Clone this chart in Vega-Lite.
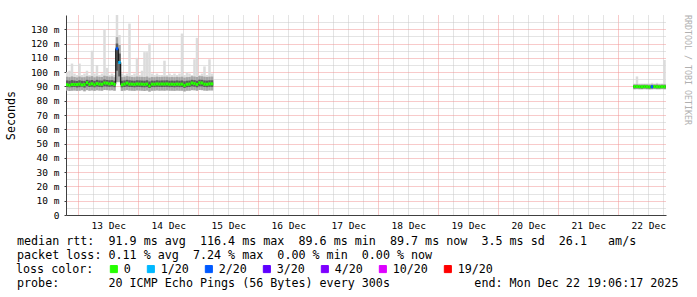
{
"$schema": "https://vega.github.io/schema/vega-lite/v6.json",
"width": 600, "height": 200,
"autosize": {"type": "none"},
"padding": {"left": 66, "top": 15, "right": 31, "bottom": 82},
"background": "white",
"config": {"view": {"stroke": null}, "font": "DejaVu Sans Mono"},
"title": {"text": "RRDTOOL / TOBI OETIKER", "orient": "right", "anchor": "start", "frame": "group", "offset": 6, "font": "DejaVu Sans Mono", "fontSize": 8.3, "fontWeight": "normal", "color": "#b0b0b0"},
"datasets": {"ping": [
{"t":"2025-12-12T19:00:00Z","seg":"A","lo":87.2,"q1":89.6,"q3":94.2,"up":96.8,"hi":100,"med":91.2,"loss":"0"},
{"t":"2025-12-12T20:00:00Z","seg":"A","lo":86.8,"q1":89.4,"q3":94.0,"up":96.5,"hi":101,"med":90.8,"loss":"0"},
{"t":"2025-12-12T21:00:00Z","seg":"A","lo":87.0,"q1":89.5,"q3":94.4,"up":97.0,"hi":106,"med":91.4,"loss":"0"},
{"t":"2025-12-12T22:00:00Z","seg":"A","lo":87.1,"q1":89.6,"q3":94.1,"up":96.6,"hi":99,"med":91.3,"loss":"0"},
{"t":"2025-12-12T23:00:00Z","seg":"A","lo":86.9,"q1":89.3,"q3":93.8,"up":96.3,"hi":98,"med":91.4,"loss":"0"},
{"t":"2025-12-13T00:00:00Z","seg":"A","lo":87.0,"q1":89.5,"q3":94.3,"up":96.9,"hi":106,"med":91.6,"loss":"0"},
{"t":"2025-12-13T01:00:00Z","seg":"A","lo":87.3,"q1":89.7,"q3":94.0,"up":96.4,"hi":98,"med":91.1,"loss":"0"},
{"t":"2025-12-13T02:00:00Z","seg":"A","lo":86.6,"q1":89.2,"q3":93.9,"up":96.5,"hi":99,"med":91.3,"loss":"0"},
{"t":"2025-12-13T03:00:00Z","seg":"A","lo":87.4,"q1":90.1,"q3":94.6,"up":97.1,"hi":101,"med":92.6,"loss":"0"},
{"t":"2025-12-13T04:00:00Z","seg":"A","lo":87.0,"q1":89.6,"q3":94.2,"up":96.8,"hi":98,"med":91.5,"loss":"0"},
{"t":"2025-12-13T05:00:00Z","seg":"A","lo":87.2,"q1":89.8,"q3":94.5,"up":97.2,"hi":115,"med":91.9,"loss":"0"},
{"t":"2025-12-13T06:00:00Z","seg":"A","lo":86.9,"q1":89.4,"q3":93.9,"up":96.4,"hi":99,"med":91.2,"loss":"0"},
{"t":"2025-12-13T07:00:00Z","seg":"A","lo":87.3,"q1":89.9,"q3":94.6,"up":97.0,"hi":105,"med":92.0,"loss":"0"},
{"t":"2025-12-13T08:00:00Z","seg":"A","lo":87.1,"q1":89.6,"q3":94.2,"up":96.7,"hi":98,"med":91.6,"loss":"0"},
{"t":"2025-12-13T09:00:00Z","seg":"A","lo":87.0,"q1":89.5,"q3":94.1,"up":96.6,"hi":99,"med":91.5,"loss":"0"},
{"t":"2025-12-13T10:00:00Z","seg":"A","lo":87.5,"q1":90.0,"q3":94.8,"up":97.5,"hi":130,"med":92.4,"loss":"0"},
{"t":"2025-12-13T11:00:00Z","seg":"A","lo":87.4,"q1":89.9,"q3":94.5,"up":97.1,"hi":103,"med":92.3,"loss":"0"},
{"t":"2025-12-13T12:00:00Z","seg":"A","lo":87.2,"q1":89.7,"q3":94.3,"up":96.8,"hi":98,"med":91.8,"loss":"0"},
{"t":"2025-12-13T13:00:00Z","seg":"A","lo":87.3,"q1":89.9,"q3":94.4,"up":97.0,"hi":99,"med":92.1,"loss":"0"},
{"t":"2025-12-13T14:00:00Z","seg":"A","lo":87.0,"q1":89.5,"q3":94.0,"up":96.5,"hi":98,"med":91.5,"loss":"0"},
{"t":"2025-12-13T15:00:00Z","seg":"A","lo":93.0,"q1":101.0,"q3":120.0,"up":124.5,"hi":140,"med":116.4,"loss":"2/20"},
{"t":"2025-12-13T16:00:00Z","seg":"A","lo":93.0,"q1":97.0,"q3":113.0,"up":119.0,"hi":126,"med":106.8,"loss":"1/20"},
{"t":"2025-12-13T17:00:00Z","seg":"A","lo":86.9,"q1":89.4,"q3":94.0,"up":96.5,"hi":99,"med":91.2,"loss":"0"},
{"t":"2025-12-13T18:00:00Z","seg":"A","lo":87.1,"q1":89.6,"q3":94.2,"up":96.8,"hi":98,"med":91.6,"loss":"0"},
{"t":"2025-12-13T19:00:00Z","seg":"A","lo":87.4,"q1":89.9,"q3":94.6,"up":97.2,"hi":99,"med":92.3,"loss":"0"},
{"t":"2025-12-13T20:00:00Z","seg":"A","lo":87.1,"q1":89.6,"q3":94.3,"up":96.9,"hi":134,"med":91.6,"loss":"0"},
{"t":"2025-12-13T21:00:00Z","seg":"A","lo":87.0,"q1":89.6,"q3":94.1,"up":96.6,"hi":98,"med":91.6,"loss":"0"},
{"t":"2025-12-13T22:00:00Z","seg":"A","lo":86.9,"q1":89.4,"q3":94.0,"up":96.5,"hi":99,"med":91.4,"loss":"0"},
{"t":"2025-12-13T23:00:00Z","seg":"A","lo":87.2,"q1":89.7,"q3":94.3,"up":96.9,"hi":110,"med":91.8,"loss":"0"},
{"t":"2025-12-14T00:00:00Z","seg":"A","lo":87.1,"q1":89.6,"q3":94.2,"up":96.7,"hi":98,"med":91.6,"loss":"0"},
{"t":"2025-12-14T01:00:00Z","seg":"A","lo":87.0,"q1":89.5,"q3":94.1,"up":96.7,"hi":101,"med":91.6,"loss":"0"},
{"t":"2025-12-14T02:00:00Z","seg":"A","lo":86.8,"q1":89.4,"q3":94.0,"up":96.6,"hi":114,"med":91.4,"loss":"0"},
{"t":"2025-12-14T03:00:00Z","seg":"A","lo":87.1,"q1":89.7,"q3":94.3,"up":96.9,"hi":114,"med":91.7,"loss":"0"},
{"t":"2025-12-14T04:00:00Z","seg":"A","lo":86.4,"q1":88.9,"q3":93.5,"up":96.2,"hi":120,"med":90.4,"loss":"0"},
{"t":"2025-12-14T05:00:00Z","seg":"A","lo":87.0,"q1":89.6,"q3":94.1,"up":96.6,"hi":99,"med":91.6,"loss":"0"},
{"t":"2025-12-14T06:00:00Z","seg":"A","lo":87.0,"q1":89.5,"q3":94.0,"up":96.5,"hi":98,"med":91.5,"loss":"0"},
{"t":"2025-12-14T07:00:00Z","seg":"A","lo":87.2,"q1":89.7,"q3":94.3,"up":96.8,"hi":99,"med":91.8,"loss":"0"},
{"t":"2025-12-14T08:00:00Z","seg":"A","lo":87.0,"q1":89.6,"q3":94.1,"up":96.6,"hi":98,"med":91.6,"loss":"0"},
{"t":"2025-12-14T09:00:00Z","seg":"A","lo":87.1,"q1":89.6,"q3":94.2,"up":96.7,"hi":98,"med":91.7,"loss":"0"},
{"t":"2025-12-14T10:00:00Z","seg":"A","lo":87.0,"q1":89.6,"q3":94.2,"up":96.8,"hi":108,"med":91.6,"loss":"0"},
{"t":"2025-12-14T11:00:00Z","seg":"A","lo":87.2,"q1":89.7,"q3":94.3,"up":96.8,"hi":98,"med":91.8,"loss":"0"},
{"t":"2025-12-14T12:00:00Z","seg":"A","lo":87.0,"q1":89.5,"q3":94.0,"up":96.5,"hi":99,"med":91.5,"loss":"0"},
{"t":"2025-12-14T13:00:00Z","seg":"A","lo":87.0,"q1":89.6,"q3":94.1,"up":96.6,"hi":98,"med":91.6,"loss":"0"},
{"t":"2025-12-14T14:00:00Z","seg":"A","lo":86.9,"q1":89.4,"q3":94.0,"up":96.5,"hi":99,"med":91.4,"loss":"0"},
{"t":"2025-12-14T15:00:00Z","seg":"A","lo":87.1,"q1":89.7,"q3":94.2,"up":96.7,"hi":98,"med":91.7,"loss":"0"},
{"t":"2025-12-14T16:00:00Z","seg":"A","lo":87.0,"q1":89.5,"q3":94.0,"up":96.5,"hi":99,"med":91.5,"loss":"0"},
{"t":"2025-12-14T17:00:00Z","seg":"A","lo":87.0,"q1":89.6,"q3":94.2,"up":96.8,"hi":127,"med":91.6,"loss":"0"},
{"t":"2025-12-14T18:00:00Z","seg":"A","lo":86.5,"q1":89.0,"q3":93.6,"up":96.2,"hi":98,"med":90.7,"loss":"0"},
{"t":"2025-12-14T19:00:00Z","seg":"A","lo":87.0,"q1":89.5,"q3":94.0,"up":96.5,"hi":100,"med":91.5,"loss":"0"},
{"t":"2025-12-14T20:00:00Z","seg":"A","lo":87.0,"q1":89.6,"q3":94.1,"up":96.6,"hi":99,"med":91.6,"loss":"0"},
{"t":"2025-12-14T21:00:00Z","seg":"A","lo":87.4,"q1":90.0,"q3":94.6,"up":97.1,"hi":98,"med":92.4,"loss":"0"},
{"t":"2025-12-14T22:00:00Z","seg":"A","lo":87.3,"q1":89.8,"q3":94.4,"up":96.9,"hi":109,"med":92.0,"loss":"0"},
{"t":"2025-12-14T23:00:00Z","seg":"A","lo":87.0,"q1":89.4,"q3":94.0,"up":96.6,"hi":124,"med":91.4,"loss":"0"},
{"t":"2025-12-15T00:00:00Z","seg":"A","lo":87.5,"q1":90.0,"q3":94.7,"up":97.2,"hi":98,"med":92.5,"loss":"0"},
{"t":"2025-12-15T01:00:00Z","seg":"A","lo":87.4,"q1":90.0,"q3":94.6,"up":97.1,"hi":99,"med":92.4,"loss":"0"},
{"t":"2025-12-15T02:00:00Z","seg":"A","lo":87.1,"q1":89.6,"q3":94.2,"up":96.8,"hi":104,"med":91.6,"loss":"0"},
{"t":"2025-12-15T03:00:00Z","seg":"A","lo":87.0,"q1":89.5,"q3":94.1,"up":96.6,"hi":98,"med":91.5,"loss":"0"},
{"t":"2025-12-15T04:00:00Z","seg":"A","lo":87.2,"q1":89.7,"q3":94.3,"up":96.8,"hi":109,"med":91.8,"loss":"0"},
{"t":"2025-12-15T05:00:00Z","seg":"A","lo":87.2,"q1":89.7,"q3":94.3,"up":96.9,"hi":99,"med":91.8,"loss":"0"},
{"t":"2025-12-22T06:00:00Z","seg":"B","lo":88.0,"q1":88.7,"q3":90.7,"up":91.5,"hi":92,"med":89.9,"loss":"0"},
{"t":"2025-12-22T07:00:00Z","seg":"B","lo":88.1,"q1":88.8,"q3":90.8,"up":91.6,"hi":97,"med":89.9,"loss":"0"},
{"t":"2025-12-22T08:00:00Z","seg":"B","lo":88.0,"q1":88.7,"q3":90.6,"up":91.4,"hi":92,"med":89.8,"loss":"0"},
{"t":"2025-12-22T09:00:00Z","seg":"B","lo":88.0,"q1":88.6,"q3":90.6,"up":91.4,"hi":92,"med":89.7,"loss":"0"},
{"t":"2025-12-22T10:00:00Z","seg":"B","lo":88.1,"q1":88.8,"q3":90.7,"up":91.5,"hi":92,"med":89.9,"loss":"0"},
{"t":"2025-12-22T11:00:00Z","seg":"B","lo":88.0,"q1":88.7,"q3":90.6,"up":91.4,"hi":92,"med":89.8,"loss":"0"},
{"t":"2025-12-22T12:00:00Z","seg":"B","lo":87.9,"q1":88.6,"q3":90.5,"up":91.3,"hi":92,"med":89.6,"loss":"0"},
{"t":"2025-12-22T13:00:00Z","seg":"B","lo":88.0,"q1":88.7,"q3":90.7,"up":91.5,"hi":92.5,"med":89.8,"loss":"2/20"},
{"t":"2025-12-22T14:00:00Z","seg":"B","lo":88.1,"q1":88.8,"q3":90.7,"up":91.5,"hi":92,"med":89.9,"loss":"0"},
{"t":"2025-12-22T15:00:00Z","seg":"B","lo":88.0,"q1":88.7,"q3":90.8,"up":91.6,"hi":92.5,"med":89.8,"loss":"0"},
{"t":"2025-12-22T16:00:00Z","seg":"B","lo":88.0,"q1":88.7,"q3":90.6,"up":91.4,"hi":92,"med":89.7,"loss":"0"},
{"t":"2025-12-22T17:00:00Z","seg":"B","lo":88.1,"q1":88.8,"q3":90.7,"up":91.5,"hi":92,"med":89.8,"loss":"0"},
{"t":"2025-12-22T18:00:00Z","seg":"B","lo":88.0,"q1":88.7,"q3":90.7,"up":91.6,"hi":108.5,"med":89.8,"loss":"0"},
{"t":"2025-12-22T19:00:00Z","seg":"B","lo":88.0,"q1":88.6,"q3":90.6,"up":91.4,"hi":92,"med":89.7,"loss":"0"}
]},
"data": {"name": "ping"},
"transform": [{"timeUnit": "utcyearmonthdatehours", "field": "t", "as": "h0"}],
"layer": [
{"mark": {"type": "rect", "color": "#dcdcdc", "clip": true},
 "encoding": {
  "x": {"field": "h0", "type": "temporal",
        "title": ["median rtt:\u00a0\u00a091.9 ms avg\u00a0\u00a0116.4 ms max\u00a0\u00a089.6 ms min\u00a0\u00a089.7 ms now\u00a0\u00a03.5 ms sd\u00a0\u00a026.1\u00a0\u00a0\u00a0am/s", "packet loss: 0.11 % avg\u00a0\u00a07.24 % max\u00a0\u00a00.00 % min\u00a0\u00a00.00 % now", "\u200b", "probe:\u00a0\u00a0\u00a0\u00a0\u00a0\u00a0\u00a020 ICMP Echo Pings (56 Bytes) every 300s\u00a0\u00a0\u00a0\u00a0\u00a0\u00a0\u00a0\u00a0\u00a0\u00a0\u00a0\u00a0end: Mon Dec 22 19:06:17 2025"],
        "scale": {"type": "utc", "domain": [1765566377000, 1766430377000]},
        "axis": {"orient": "bottom", "tickCount": 100,
                 "values": [1765584000000,1765605600000,1765627200000,1765648800000,1765670400000,1765692000000,1765713600000,1765735200000,1765756800000,1765778400000,1765800000000,1765821600000,1765843200000,1765864800000,1765886400000,1765908000000,1765929600000,1765951200000,1765972800000,1765994400000,1766016000000,1766037600000,1766059200000,1766080800000,1766102400000,1766124000000,1766145600000,1766167200000,1766188800000,1766210400000,1766232000000,1766253600000,1766275200000,1766296800000,1766318400000,1766340000000,1766361600000,1766383200000,1766404800000,1766426400000],
                 "grid": true, "gridDash": [1, 1],
                 "gridColor": {"condition": {"test": "utchours(datum.value) === 0", "value": "#f09595"}, "value": "#c8c8c8"},
                 "domain": true, "domainColor": "#404040", "ticks": false,
                 "labelExpr": "utchours(datum.value) === 12 ? utcFormat(datum.value, '%d %b') : ''",
                 "labelFont": "DejaVu Sans Mono", "labelFontSize": 9.5, "labelColor": "#000000", "labelPadding": 5,
                 "labelOverlap": false, "labelFlush": false,
                 "titleX": -49.5, "titleY": 20, "titleAlign": "left", "titleBaseline": "top",
                 "titleFont": "DejaVu Sans Mono", "titleFontSize": 11.7, "titleFontWeight": "normal", "titleColor": "#000000", "titleLineHeight": 14}},
  "x2": {"field": "h0_end"},
  "y": {"field": "lo", "type": "quantitative", "title": "Seconds", "scale": {"domain": [0, 140], "nice": false},
        "axis": {"orient": "left", "tickCount": 100, "values": [0,5,10,15,20,25,30,35,40,45,50,55,60,65,70,75,80,85,90,95,100,105,110,115,120,125,130,135],
                 "grid": true, "gridDash": [1, 1],
                 "gridColor": {"condition": {"test": "datum.value % 10 === 0", "value": "#f09595"}, "value": "#c8c8c8"},
                 "domain": true, "domainColor": "#404040", "ticks": true, "tickSize": 2,
                 "tickColor": {"condition": {"test": "datum.value % 10 === 0", "value": "#404040"}, "value": "transparent"},
                 "labelExpr": "datum.value % 10 !== 0 ? '' : (datum.value === 0 ? '0\u00a0\u00a0' : datum.value + '\u00a0m')",
                 "labelFont": "DejaVu Sans Mono", "labelFontSize": 9.5, "labelColor": "#000000", "labelPadding": 5,
                 "labelOverlap": false, "labelFlush": false, "labelBound": false,
                 "titleX": -56, "titleY": 100, "titleAlign": "center", "titleBaseline": "middle",
                 "titleFont": "DejaVu Sans Mono", "titleFontSize": 11.7, "titleFontWeight": "normal", "titleColor": "#000000"}},
  "y2": {"field": "hi"}
 }},
{"mark": {"type": "rect", "color": "#a6a6a6", "clip": true},
 "encoding": {
  "x": {"field": "h0", "type": "temporal"},
  "x2": {"field": "h0_end"},
  "y": {"field": "lo", "type": "quantitative", "title": "Seconds"},
  "y2": {"field": "up"}
 }},
{"mark": {"type": "rect", "color": "#5c5c5c", "clip": true},
 "encoding": {
  "x": {"field": "h0", "type": "temporal"},
  "x2": {"field": "h0_end"},
  "y": {"field": "q1", "type": "quantitative", "title": "Seconds"},
  "y2": {"field": "q3"}
 }},
{"mark": {"type": "line", "color": "#000000", "strokeWidth": 1, "interpolate": "step-after", "clip": true},
 "encoding": {
  "x": {"field": "h0", "type": "temporal"},
  "y": {"field": "med", "type": "quantitative", "title": "Seconds"},
  "detail": {"field": "seg", "type": "nominal"}
 }},
{"mark": {"type": "rule", "strokeWidth": 3, "strokeCap": "butt", "clip": true},
 "encoding": {
  "x": {"field": "h0", "type": "temporal"},
  "x2": {"field": "h0_end"},
  "y": {"field": "med", "type": "quantitative", "title": "Seconds"},
  "color": {"field": "loss", "type": "nominal",
            "scale": {"domain": ["0", "1/20", "2/20", "3/20", "4/20", "10/20", "19/20"],
                      "range": ["#26ff00", "#00b8ff", "#0059ff", "#5e00ff", "#7e00ff", "#dd00ff", "#ff0000"]},
            "legend": {"title": "loss color:", "orient": "none", "legendX": -50, "legendY": 248, "direction": "horizontal",
                       "titleOrient": "left", "titleFont": "DejaVu Sans Mono", "titleFontSize": 11.7, "titleFontWeight": "normal", "titleColor": "#000000", "titlePadding": 14,
                       "labelFont": "DejaVu Sans Mono", "labelFontSize": 11.7, "labelColor": "#000000", "labelOffset": 4,
                       "columnPadding": 14, "symbolType": "square", "symbolSize": 50, "symbolStrokeWidth": 1, "padding": 0,
                       "encode": {"symbols": {"update": {"fill": {"scale": "color", "field": "value"}, "stroke": {"value": "#000000"}, "strokeWidth": {"value": 1}}}}}}
 }}
]
}
